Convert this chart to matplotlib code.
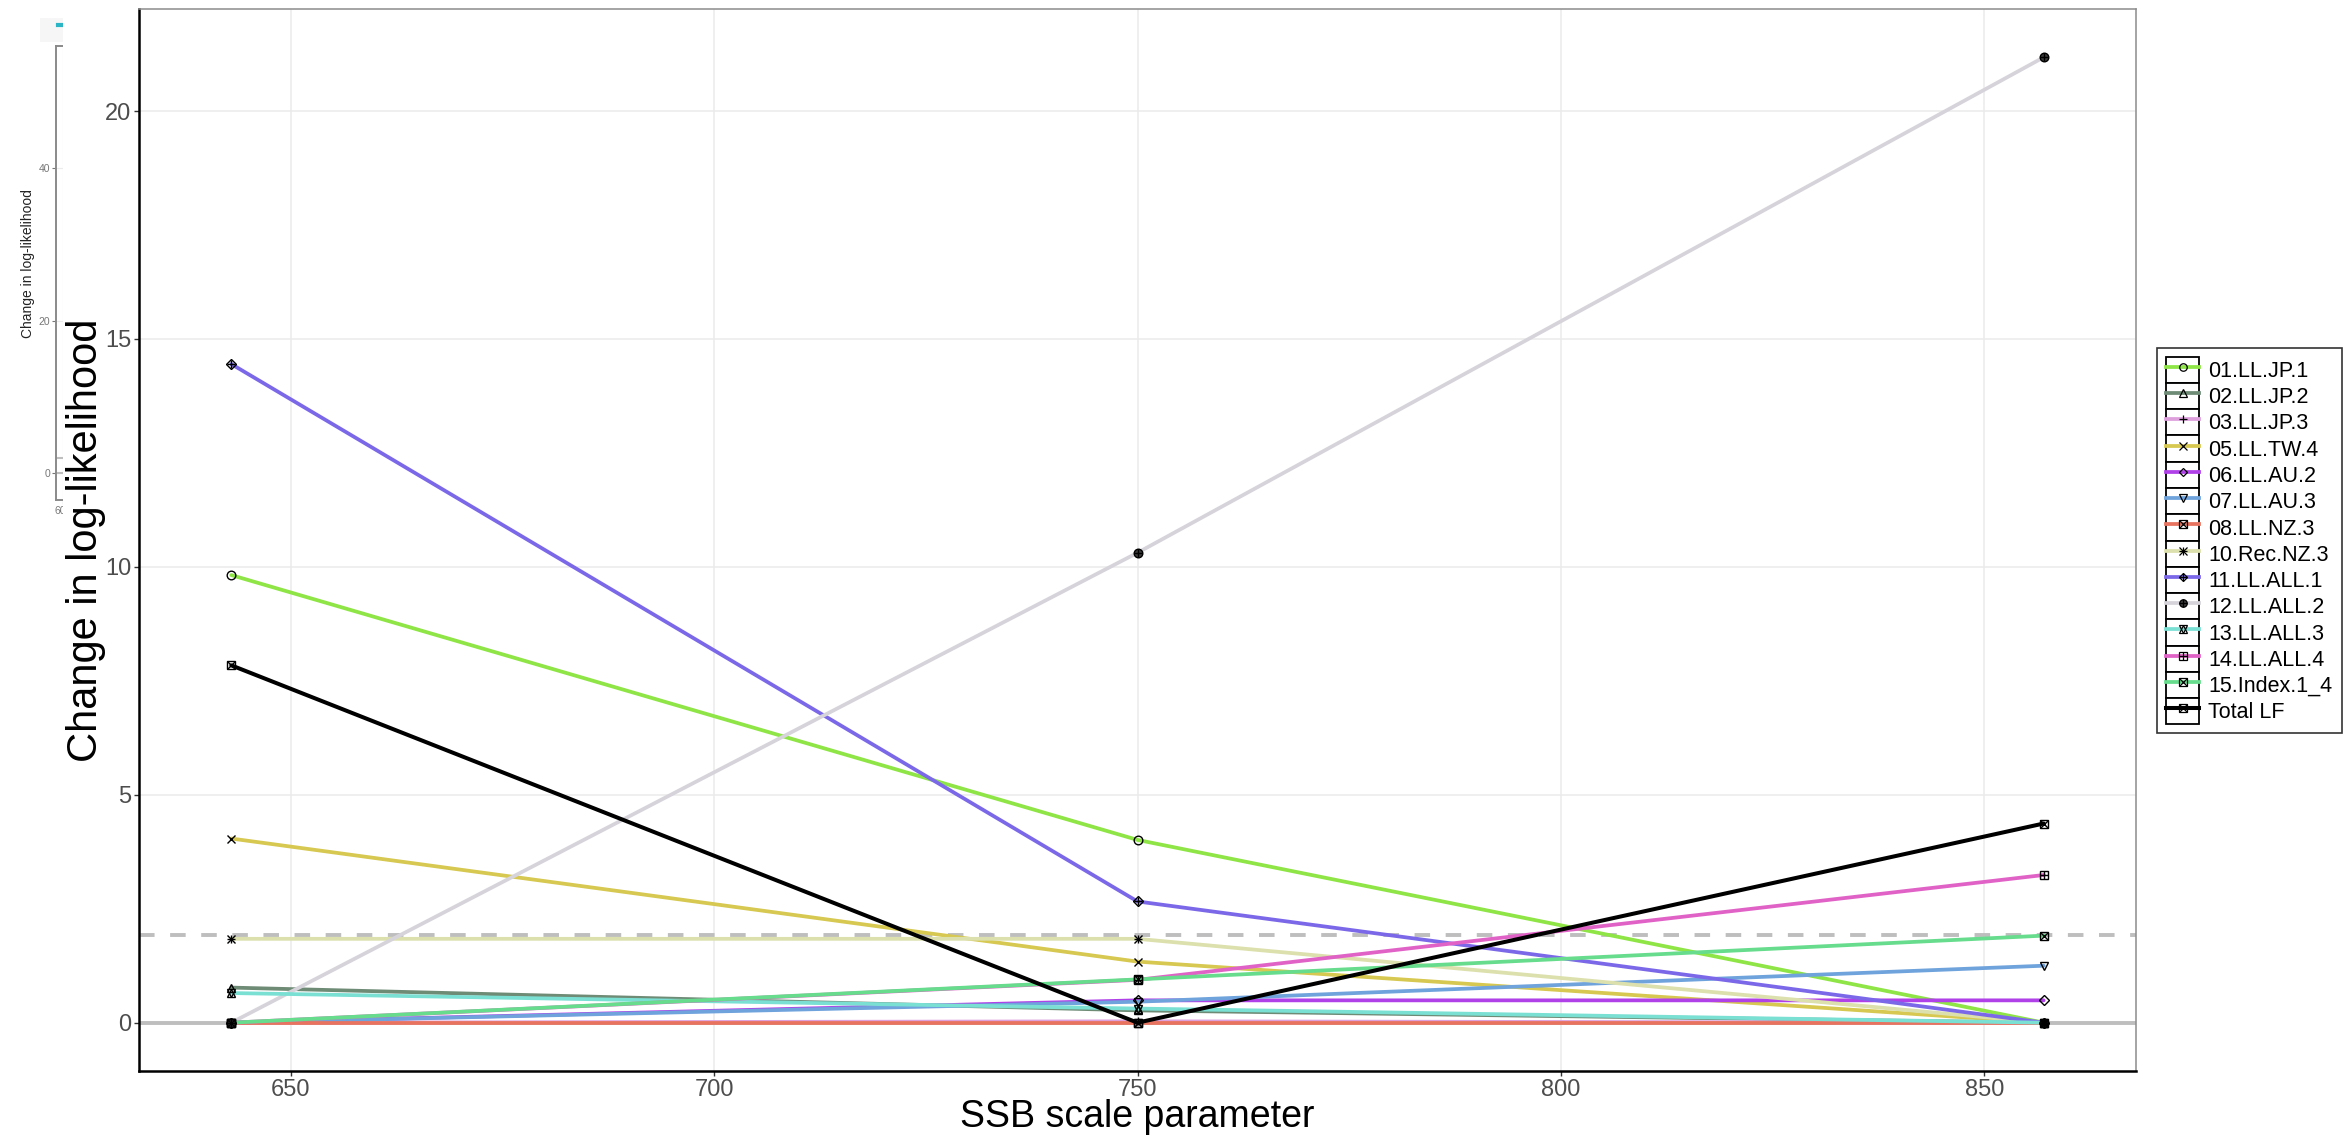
import matplotlib
matplotlib.use('Agg')
import matplotlib.pyplot as plt
from matplotlib.lines import Line2D
from matplotlib.patches import Patch, Rectangle
from matplotlib.legend_handler import HandlerTuple

plt.rcParams['font.family'] = 'Liberation Sans'

# profile over the SSB scale parameter
ssb_scale = [643, 750, 857]

ll_jp_1 = [9.82, 4.01, 0.0]
ll_jp_2 = [0.77, 0.27, 0.0]
ll_jp_3 = [0.0, 0.03, 0.0]
ll_tw_4 = [4.04, 1.34, 0.0]
ll_au_2 = [0.0, 0.49, 0.49]
ll_au_3 = [0.0, 0.46, 1.25]
ll_nz_3 = [0.0, 0.0, 0.0]
rec_nz_3 = [1.84, 1.84, 0.0]
ll_all_1 = [14.45, 2.66, 0.0]
ll_all_2 = [0.0, 10.31, 21.18]
ll_all_3 = [0.65, 0.31, 0.0]
ll_all_4 = [0.0, 0.94, 3.24]
index_1_4 = [0.0, 0.95, 1.91]
total_lf = [7.84, 0.0, 4.37]

labels = ["01.LL.JP.1", "02.LL.JP.2", "03.LL.JP.3", "05.LL.TW.4", "06.LL.AU.2",
          "07.LL.AU.3", "08.LL.NZ.3", "10.Rec.NZ.3", "11.LL.ALL.1", "12.LL.ALL.2",
          "13.LL.ALL.3", "14.LL.ALL.4", "15.Index.1_4", "Total LF"]
values = [ll_jp_1, ll_jp_2, ll_jp_3, ll_tw_4, ll_au_2, ll_au_3, ll_nz_3, rec_nz_3,
          ll_all_1, ll_all_2, ll_all_3, ll_all_4, index_1_4, total_lf]

colors = ["#8EE545", "#6E8B76", "#DDA0DD", "#D6C850", "#B040E8", "#6FA3DC", "#E8735F",
          "#DCE0AC", "#7B68E8", "#D6D4DA", "#7BE0D4", "#E062C6", "#66DC8C", "black"]
markers = [["o"], ["^"], ["+"], ["x"], ["D"], ["v"], ["s", "x"], ["+", "x"],
           ["D", "+"], ["o", "+"], ["^", "v"], ["s", "+"], ["s", "x"], ["s", "x"]]

chi_cut = 1.92

W, H = 2349, 1138
fig = plt.figure(figsize=(W / 100, H / 100), dpi=100)

# partly hidden panel underneath
bg = fig.add_axes([56 / W, 1 - 500 / H, (2100 - 56) / W, 454 / H])
bg.set_xlim(599, 880)
bg.set_ylim(-3.54, 56.0)
bg.set_yticks([0, 20, 40])
bg.set_xticks([600])
bg.grid(True, color="#EBEBEB", lw=0.8)
bg.axhline(0, color="#BEBEBE", lw=1.5)
bg.axhline(chi_cut, color="#BEBEBE", lw=1.5, ls=(0, (4, 3)))
for s in bg.spines.values():
    s.set_color("#8A8A8A")
    s.set_linewidth(1.4)
bg.tick_params(labelsize=7.5, colors="#777777", length=3, width=0.8, pad=1)
bg.set_ylabel("Change in log-likelihood", fontsize=10, color="#222222")
bg.yaxis.set_label_coords(-0.0105, 0.52)
fig.patches.append(Rectangle((40 / W, 1 - 42 / H), 23 / W, 24 / H, transform=fig.transFigure,
                             facecolor="#F6F6F6", edgecolor="none", zorder=0.3))
fig.lines.append(Line2D([58 / W, 66 / W], [1 - 25 / H, 1 - 25 / H], transform=fig.transFigure,
                        color="#2BB5C5", lw=3, zorder=0.4))
fig.patches.append(Rectangle((63 / W, 0), 1, 1, transform=fig.transFigure,
                             facecolor="white", edgecolor="none", zorder=0.5))

ax = fig.add_axes([139 / W, 1 - 1071 / H, 1997 / W, 1062 / H], zorder=1)
ax.set_xlim(632.1, 867.9)
ax.set_ylim(-1.06, 22.24)
ax.set_xticks([650, 700, 750, 800, 850])
ax.set_yticks([0, 5, 10, 15, 20])
ax.grid(True, color="#EBEBEB", lw=1.1)
ax.set_axisbelow(True)

ax.axhline(0, color="#BEBEBE", lw=2.8, zorder=1)
ax.axhline(chi_cut, color="#BEBEBE", lw=2.8, ls=(0, (4, 4)), zorder=1)

handles = []
for lab, v, c, mk in zip(labels, values, colors, markers):
    lw = 2.9 if c == "black" else 2.7
    ax.plot(ssb_scale, v, color=c, lw=lw, zorder=2, solid_capstyle="round")
    parts = [Patch(facecolor="white", edgecolor="black", lw=1.3),
             Line2D([], [], color=c, lw=lw)]
    for m in mk:
        fill = "#3C3C3C" if (lab == "12.LL.ALL.2" and m == "o") else "none"
        ms = 5.2 if m == "D" else 6.2
        ax.plot(ssb_scale, v, ls="none", marker=m, ms=ms, mfc=fill, mec="black",
                mew=1.0, zorder=3)
        parts.append(Line2D([], [], ls="none", marker=m, ms=ms - 0.8, mfc=fill,
                            mec="black", mew=0.9))
    handles.append(tuple(parts))

for side in ["left", "bottom"]:
    ax.spines[side].set_color("black")
    ax.spines[side].set_linewidth(1.8)
for side in ["top", "right"]:
    ax.spines[side].set_color("#8C8C8C")
    ax.spines[side].set_linewidth(1.1)

ax.tick_params(labelsize=17, colors="#333333", labelcolor="#4D4D4D", length=3.6,
               width=1, pad=2)
ax.set_xlabel("SSB scale parameter", fontsize=27)
ax.set_ylabel("Change in log-likelihood", fontsize=30)
ax.xaxis.set_label_coords(0.5, -0.026)
ax.yaxis.set_label_coords(-0.0165, 0.5)

leg = fig.legend(handles, labels, handler_map={tuple: HandlerTuple(ndivide=1, pad=0)},
                 loc="center left", bbox_to_anchor=(2157 / W, 0.525), fontsize=15.5,
                 frameon=True, fancybox=False, edgecolor="black", handlelength=1.55,
                 handleheight=1.5, labelspacing=0, handletextpad=0.42, borderpad=0.42,
                 borderaxespad=0)
leg.get_frame().set_linewidth(1.2)

fig.savefig("out.png", dpi=100)
